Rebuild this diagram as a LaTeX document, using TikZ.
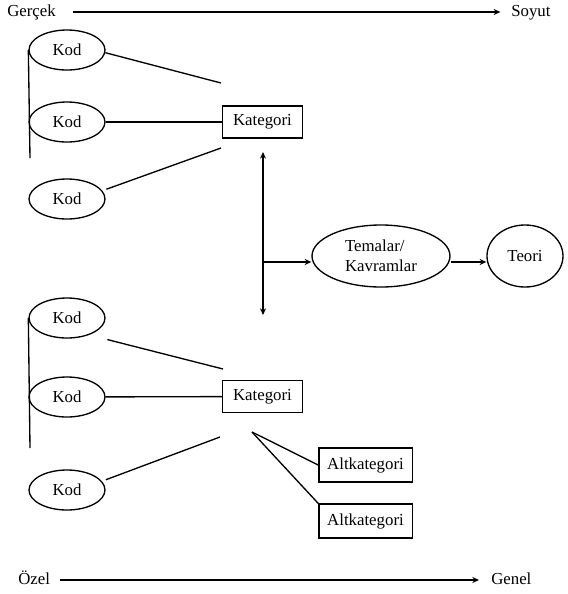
\documentclass[tikz,border=0pt]{standalone}
\usepackage{fontspec}
\setmainfont{Liberation Serif}
\usetikzlibrary{shapes.geometric,arrows.meta}

\begin{document}
\begin{tikzpicture}[
  x=0.75pt, y=-0.75pt,
  every node/.style={font=\fontsize{12.6}{15}\selectfont},
  kod/.style={draw, ellipse, line width=1pt, inner sep=0pt, minimum width=57pt, minimum height=30pt},
  kat/.style={draw, rectangle, line width=1pt, inner sep=0pt, minimum width=60pt, minimum height=24pt},
  alt/.style={draw, rectangle, line width=1pt, inner sep=0pt, minimum width=70pt, minimum height=25.5pt},
  big/.style={draw, ellipse, line width=1pt, inner sep=0pt, minimum height=46.5pt, align=left},
  lbl/.style={inner sep=0pt, text height=9pt, text depth=3pt},
  line/.style={line width=1pt},
  arrow/.style={line, -{Stealth[length=5pt,width=4.5pt]}},
  both/.style={line, {Stealth[length=5pt,width=4.5pt]}-{Stealth[length=5pt,width=4.5pt]}},
]
\useasboundingbox (0,0) rectangle (568,594);

% Gercek -> Soyut
\node[lbl, anchor=west] (gercek) at (7,12) {Gerçek};
\node[lbl, anchor=west] (soyut) at (511,12) {Soyut};
\draw[arrow, shorten <=12.5pt, shorten >=8pt] (gercek.east) -- (soyut.west);

% upper codes
\node[kod] (k1) at (67,50) {Kod};
\node[kod] (k2) at (67,122) {Kod};
\node[kod] (k3) at (67,199) {Kod};
\node[kat] (kat1) at (262.5,122) {Kategori};
\coordinate (c1) at (221,83);
\coordinate (c3) at (221,148);
\coordinate (v1) at (30,158);
\draw[line] (k1.west) -- (v1);
\draw[line] (k1.-4.5) -- (c1);
\draw[line] (k2) -- (kat1);
\draw[line] ([xshift=4pt]k3.16) -- (c3);

% themes and theory
\coordinate (up) at (263,152);
\coordinate (down) at (263,315);
\coordinate (mid) at (263,262);
\node[big, minimum width=103.5pt] (tem) at (381,256) {Temalar/\\Kavramlar};
\node[big, minimum width=57pt] (teo) at (525,256) {Teori};
\draw[both] (up) -- (down);
\draw[arrow] (mid) -- (mid -| tem.west);
\draw[arrow] (tem.east |- mid) -- (teo.west |- mid);

% lower codes
\node[kod] (k4) at (67,318) {Kod};
\node[kod] (k5) at (67,397) {Kod};
\node[kod] (k6) at (67,490) {Kod};
\node[kat] (kat2) at (262.5,396.5) {Kategori};
\coordinate (c4) at (223,369);
\coordinate (c6) at (220,437);
\coordinate (v2) at (30,448);
\coordinate (split) at (252,432);
\draw[line] (k4.west) -- (v2);
\draw[line] ([shift={(13,7)}]k4.-28) -- (c4);
\draw[line] (k5) -- (kat2);
\draw[line] ([xshift=4pt]k6.17) -- (c6);

% subcategories
\node[alt] (alt1) at (365.5,465) {Altkategori};
\node[alt] (alt2) at (365.5,521) {Altkategori};
\draw[line] (split) -- (alt1.west);
\draw[line] (split) -- (alt2.north west);

% Ozel -> Genel
\node[lbl, anchor=west] (ozel) at (18,580) {Özel};
\node[lbl, anchor=west] (genel) at (491,580) {Genel};
\draw[arrow, shorten <=7.5pt, shorten >=9pt] (ozel.east) -- (genel.west);
\end{tikzpicture}
\end{document}
